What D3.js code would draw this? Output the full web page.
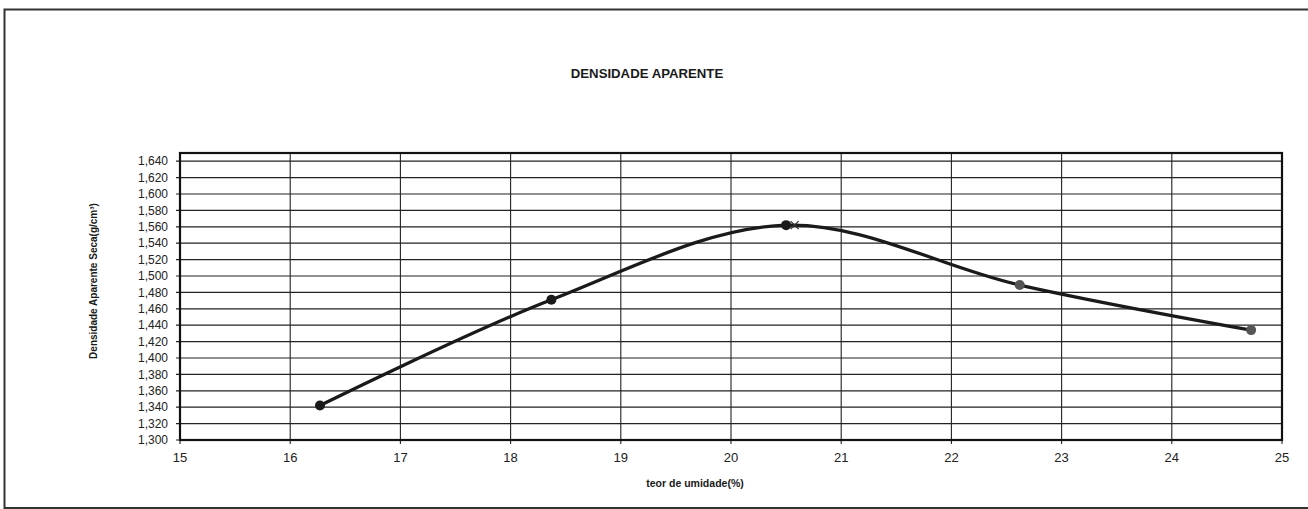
<!DOCTYPE html>
<html><head><meta charset="utf-8">
<script src="https://cdn.jsdelivr.net/npm/d3@7"></script>
<style>body{margin:0;background:#fff;}svg{display:block;font-family:"Liberation Sans",Arial,sans-serif;}</style>
</head><body>
<svg id="c" width="1308" height="509"></svg>
<script>
const moisture = [16.27, 18.37, 20.50, 22.62, 24.72];
const density = [1.342, 1.471, 1.562, 1.489, 1.434];
const maxPoint = [20.55, 1.562];
const xTicks = [15,16,17,18,19,20,21,22,23,24,25];
const yTicks = d3.range(0, 18).map(i => +(1.30 + i*0.02).toFixed(2));
const title = "DENSIDADE APARENTE";
const xTitle = "teor de umidade(%)";
const yTitle = "Densidade Aparente Seca(g/cm³)";

const svg = d3.select("#c");
const L = 180, R = 1282, T = 153, B = 440;
const x = d3.scaleLinear().domain([15,25]).range([L,R]);
const y = d3.scaleLinear().domain([1.30,1.65]).range([B,T]);

// outer frame
svg.append("rect").attr("x",4.5).attr("y",9.5).attr("width",1310).attr("height",498.5)
  .attr("fill","none").attr("stroke","#333").attr("stroke-width",2);

// grid
svg.append("g").selectAll("line").data(yTicks).join("line")
  .attr("x1",L-4).attr("x2",R).attr("y1",d=>y(d)).attr("y2",d=>y(d))
  .attr("stroke","#222").attr("stroke-width",1.2);
svg.append("g").selectAll("line").data(xTicks).join("line")
  .attr("x1",d=>x(d)).attr("x2",d=>x(d)).attr("y1",T).attr("y2",B+4)
  .attr("stroke","#222").attr("stroke-width",1.1);

// y labels
svg.append("g").selectAll("text").data(yTicks).join("text")
  .attr("x",168).attr("y",d=>y(d)).attr("dy","0.35em").attr("text-anchor","end")
  .attr("font-size",12).attr("fill","#222")
  .text(d=>d3.format(".3f")(d).replace(".",","));
// x labels
svg.append("g").selectAll("text").data(xTicks).join("text")
  .attr("x",d=>x(d)).attr("y",457).attr("dy","0.35em").attr("text-anchor","middle")
  .attr("font-size",13).attr("fill","#222").text(d=>d);

// plot border
svg.append("rect").attr("x",L).attr("y",T).attr("width",R-L).attr("height",B-T)
  .attr("fill","none").attr("stroke","#111").attr("stroke-width",2.2);

// curve
const pts = moisture.map((m,i)=>[m,density[i]]);
const line = d3.line().x(d=>x(d[0])).y(d=>y(d[1])).curve(d3.curveCatmullRom.alpha(0.5));
svg.append("path").datum(pts).attr("d",line).attr("fill","none")
  .attr("stroke","#1a1a1a").attr("stroke-width",3.3);

svg.append("g").selectAll("circle").data(pts).join("circle")
  .attr("cx",d=>x(d[0])).attr("cy",d=>y(d[1])).attr("r",5)
  .attr("fill",(d,i)=> i>=3 ? "#555" : "#1a1a1a");

// max marker x
const mx = x(maxPoint[0])+3, my = y(maxPoint[1]);
svg.append("path").attr("d",`M${mx-4},${my-4}L${mx+4},${my+4}M${mx-4},${my+4}L${mx+4},${my-4}`)
  .attr("stroke","#333").attr("stroke-width",1.3);

// titles
svg.append("text").attr("x",647).attr("y",78).attr("text-anchor","middle")
  .attr("font-size",13.2).attr("font-weight","bold").attr("fill","#1a1a1a").text(title);
svg.append("text").attr("x",695).attr("y",487).attr("text-anchor","middle")
  .attr("font-size",10.5).attr("font-weight","bold").attr("fill","#1a1a1a").text(xTitle);
svg.append("text").attr("transform","translate(97,281) rotate(-90)").attr("text-anchor","middle")
  .attr("font-size",10).attr("font-weight","bold").attr("fill","#1a1a1a").text(yTitle);
</script>
</body></html>
